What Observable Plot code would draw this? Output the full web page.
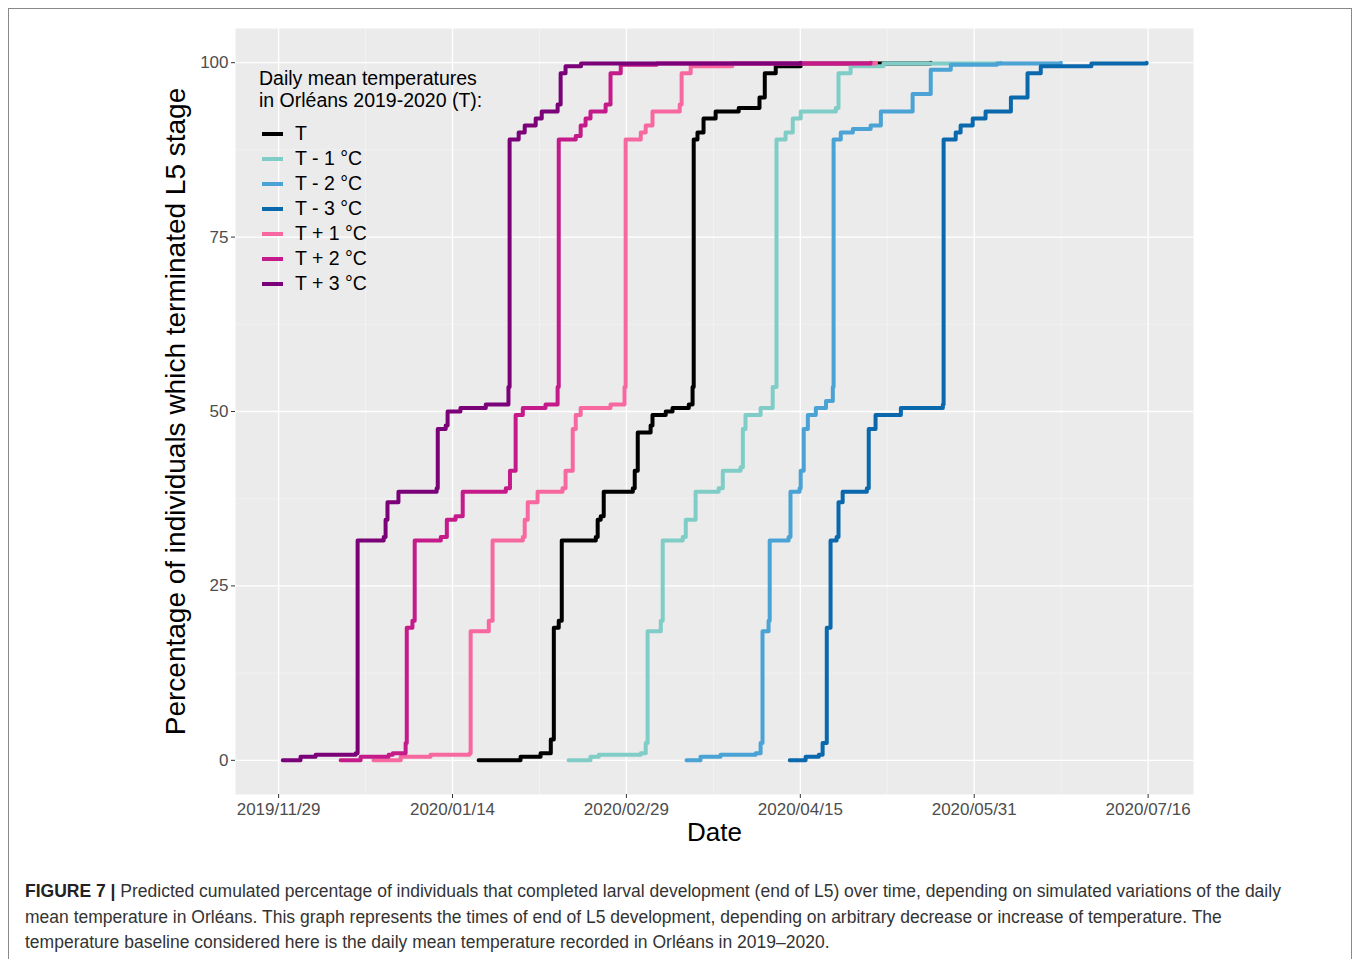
<!DOCTYPE html>
<html><head><meta charset="utf-8">
<script src="https://cdn.jsdelivr.net/npm/d3@7"></script>
<script src="https://cdn.jsdelivr.net/npm/@observablehq/plot@0.6"></script>
<style>
body{margin:0;background:#fff;font-family:"Liberation Sans",Arial,sans-serif;}
#frame{position:absolute;left:8px;top:8px;width:1344px;height:960px;border:1px solid #888;box-sizing:border-box;}
#chart{position:absolute;left:0;top:0;}
#legend{position:absolute;left:250px;top:58px;font-size:19.5px;color:#000;}
#legend .t{line-height:22px;margin-bottom:10px}
#legend .row{display:flex;align-items:center;height:25px}
#legend .sw{width:21px;height:4px;margin:0 12px 0 3px}
#caption{position:absolute;left:16px;top:870px;width:1290px;font-size:17.5px;line-height:25.5px;color:#333;}
</style></head><body>
<div id="frame"><div id="chart"></div><div id="legend"></div><div id="caption"></div></div>
<script>
// series: [days since 2019-11-29, cumulated %]
const seriesNames = ["T", "T - 1 °C", "T - 2 °C", "T - 3 °C", "T + 1 °C", "T + 2 °C", "T + 3 °C"];
const seriesColors = ["#000000", "#7fcdc6", "#4aa3d4", "#0a68ad", "#f768a1", "#c51b8a", "#7a0177"];

const tBase = [[52.9,0],[64,0.5],[69.3,1],[72,3],[72.8,19],[74.1,20],[74.9,31.5],[83.9,32],[84.4,34.5],[85.2,35],[86,38.5],[93.7,39],[94.2,41.5],[95,47],[98.4,48],[98.9,49.5],[102.4,50],[104.2,50.5],[108.5,51],[109.5,53.5],[109.8,89],[110.8,90],[112.4,92],[115.6,93],[121.7,93.5],[127.2,95],[128.6,98.5],[131.5,99.5],[138.1,99.9],[172.5,100]];
const tMinus1 = [[76.7,0],[82.5,0.5],[84.7,0.8],[95.8,1],[97.1,2.5],[97.6,18.5],[101.1,20],[101.6,31.5],[106.9,32],[107.7,34.5],[110.3,38.5],[116.4,39],[117.5,41.5],[122.2,42],[122.8,47.5],[123.5,49.5],[127.5,50.5],[130.7,53.5],[131.7,89],[134.1,90],[136,92],[138.1,93],[147.4,93.5],[148.1,98.5],[151.3,99.5],[160,99.9],[191,100]];
const tMinus2 = [[107.9,0],[111.6,0.5],[116.9,0.8],[126.2,1],[127.5,2.5],[128,18.5],[129.6,20],[129.9,31.5],[134.9,32],[135.4,38.5],[137.8,39],[138.1,41.5],[138.9,47.5],[140,49.5],[142.1,50.5],[144.8,51.5],[146.6,53.5],[146.8,89],[148.7,90],[151.9,90.5],[156.6,91],[159.3,93],[167.7,95.5],[172.5,99],[177.8,99.7],[190,99.9],[206.9,100]];
const tMinus3 = [[135.2,0],[139.4,0.5],[142.9,0.8],[143.9,2.5],[145,19],[146,31.5],[147.6,32],[148.1,37],[149.2,38.5],[155.6,39],[156.1,47.5],[157.9,49.5],[164.6,50.5],[175.7,51],[175.9,89],[179.1,90],[180.4,91],[183.6,92],[187,93],[193.7,95],[198.1,98.5],[201.6,99.5],[215,99.9],[229.6,100]];
const tPlus1 = [[25.1,0],[32.3,0.5],[40.2,0.8],[50.5,1],[50.8,18.5],[55.6,20],[56.6,31.5],[64.6,32],[65.1,34.5],[65.9,37],[68.5,38.5],[75.1,39],[75.9,41.5],[77.8,47.5],[78.6,49.5],[79.9,50.5],[87.8,51],[91.5,53.5],[91.8,89],[95.8,90],[97.1,91],[98.9,93],[106.1,94],[106.6,98.5],[109,99.5],[120,99.9],[158,100]];
const tPlus2 = [[16.4,0],[21.7,0.5],[29.1,0.8],[30.2,1],[33.6,2.5],[33.9,19],[35.4,20],[36,31.5],[42.9,32],[44.5,34.5],[46.8,35],[48.7,38.5],[60.1,39],[61.2,41.5],[62.7,49.5],[64.6,50.5],[70.6,51],[73.8,53.5],[74.1,89],[78.6,89.5],[79.9,91],[81.2,92],[82.5,93],[86.5,94],[87.8,98.5],[90.5,99.7],[100,99.9],[156.6,100]];
const tPlus3 = [[1.1,0],[5.8,0.5],[9.8,0.8],[20.4,1],[20.9,31.5],[27.8,32],[28.3,34.5],[28.8,37],[31.7,38.5],[41.8,39],[42.1,47.5],[44.2,48],[44.7,50],[48.1,50.5],[54.8,51],[60.8,53.5],[61.1,89],[63.5,90],[65.1,91],[68,92],[69.6,93],[73.8,94],[74.6,98.5],[75.9,99.5],[80,99.9],[138,100]];
const seriesData = [tBase, tMinus1, tMinus2, tMinus3, tPlus1, tPlus2, tPlus3];

const xTicks = ["2019-11-29","2020-01-14","2020-02-29","2020-04-15","2020-05-31","2020-07-16"];
const yTicks = [0, 25, 50, 75, 100];
const start = new Date("2019-11-29T00:00:00Z");

const toDate = d => new Date(start.getTime() + d * 864e5);
const rows = [];
seriesData.forEach((s, i) => s.forEach(([d, v]) => rows.push({date: toDate(d), v, name: seriesNames[i]})));
const xt = xTicks.map(s => new Date(s + "T00:00:00Z"));
const xMinor = xt.slice(0, -1).map((d, i) => new Date((d.getTime() + xt[i + 1].getTime()) / 2));
const fmt = d3.utcFormat("%Y/%m/%d");

const plot = Plot.plot({
  width: 1342, height: 850,
  marginLeft: 226, marginRight: 158, marginTop: 19, marginBottom: 65,
  style: {fontFamily: "Liberation Sans, Arial, sans-serif", fontSize: "17px", background: "transparent"},
  x: {type: "utc", domain: [toDate(-11.4), toDate(242)], label: null},
  y: {domain: [-4.9, 104.9], label: null},
  color: {domain: seriesNames, range: seriesColors},
  marks: [
    Plot.frame({fill: "#ebebeb", stroke: null}),
    Plot.gridY([12.5, 37.5, 62.5, 87.5], {stroke: "#fff", strokeOpacity: 0.6, strokeWidth: 0.6}),
    Plot.gridX(xMinor, {stroke: "#fff", strokeOpacity: 0.6, strokeWidth: 0.6}),
    Plot.gridY(yTicks, {stroke: "#fff", strokeOpacity: 1, strokeWidth: 1.3}),
    Plot.gridX(xt, {stroke: "#fff", strokeOpacity: 1, strokeWidth: 1.3}),
    Plot.line(rows, {x: "date", y: "v", z: "name", stroke: "name", strokeWidth: 4, curve: "step-after"}),
    Plot.axisY(yTicks, {tickSize: 4, tickPadding: 3, fill: "#4d4d4d", stroke: "#333", fontSize: 17}),
    Plot.axisX(xt, {tickSize: 4, tickPadding: 4, tickFormat: fmt, fill: "#4d4d4d", stroke: "#333", fontSize: 17}),
    Plot.text(["Date"], {frameAnchor: "bottom", dy: 46, fontSize: 26, fill: "#000"}),
    Plot.text(["Percentage of individuals which terminated L5 stage"], {frameAnchor: "left", dx: -59, rotate: -90, textAnchor: "middle", fontSize: 28, fill: "#000"})
  ]
});
document.getElementById("chart").appendChild(plot);

const lg = document.getElementById("legend");
lg.innerHTML = '<div class="t">Daily mean temperatures<br>in Orléans 2019-2020 (T):</div>' +
  seriesNames.map((n, i) => `<div class="row"><span class="sw" style="background:${seriesColors[i]}"></span>${n}</div>`).join("");

document.getElementById("caption").innerHTML = '<b style="color:#222">FIGURE 7 |</b> Predicted cumulated percentage of individuals that completed larval development (end of L5) over time, depending on simulated variations of the daily mean temperature in Orléans. This graph represents the times of end of L5 development, depending on arbitrary decrease or increase of temperature. The temperature baseline considered here is the daily mean temperature recorded in Orléans in 2019–2020.';
</script>
</body></html>
